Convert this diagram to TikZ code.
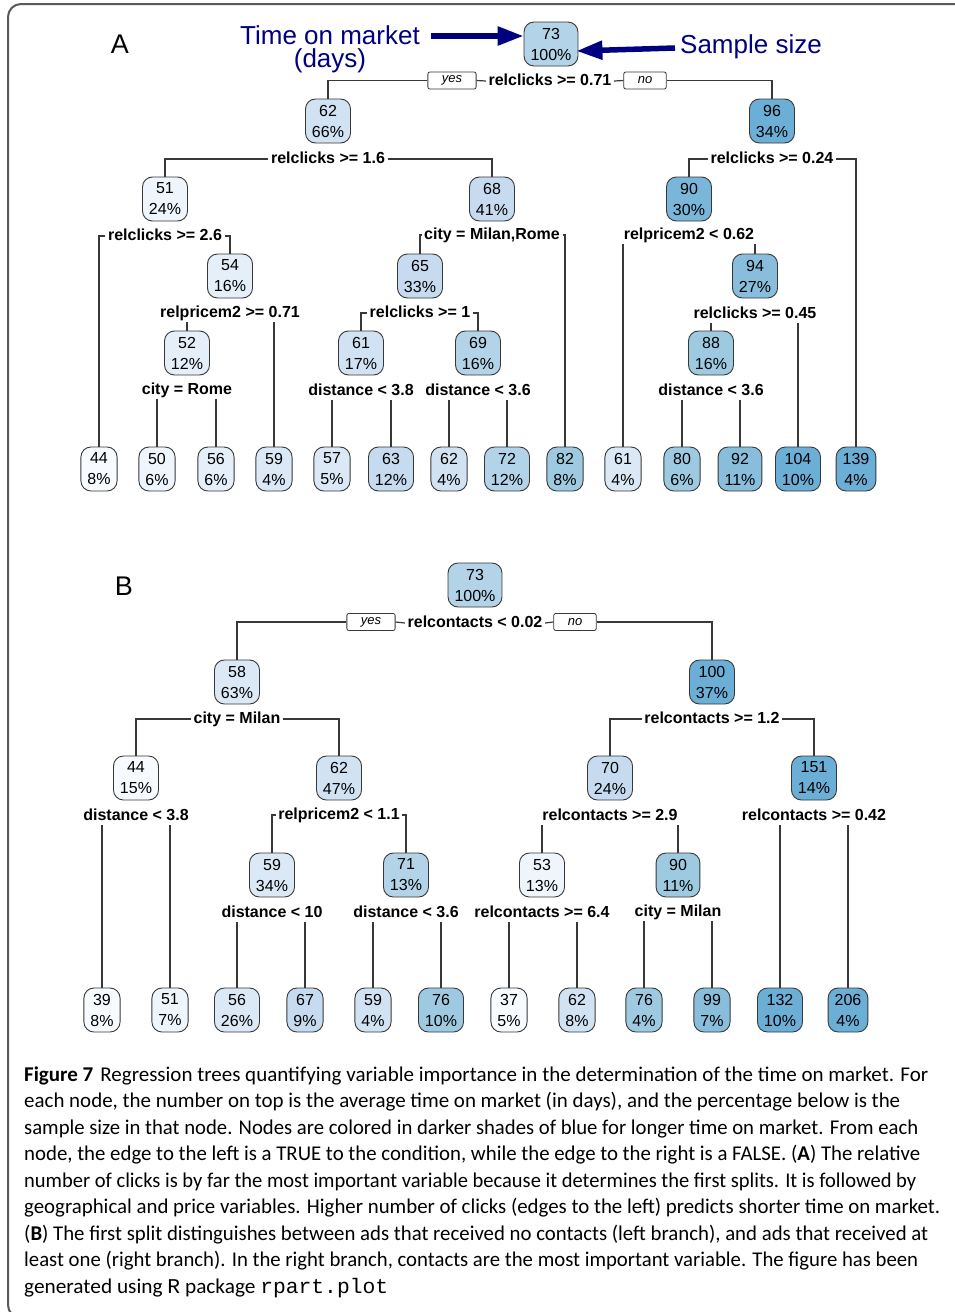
\documentclass[tikz,border=0pt]{standalone}
\usepackage{fontspec}
\usepackage{graphicx}
\setmainfont{Liberation Sans}
\newfontfamily\capfont{Carlito}
\newfontfamily\capmono{Liberation Mono}
\usetikzlibrary{arrows.meta,calc}
\definecolor{L0}{HTML}{F7FBFF}
\definecolor{L1}{HTML}{EEF5FC}
\definecolor{L2}{HTML}{E5EFF9}
\definecolor{L3}{HTML}{DBE9F6}
\definecolor{L4}{HTML}{D1E2F3}
\definecolor{L5}{HTML}{C6DBEF}
\definecolor{L6}{HTML}{B3D3E8}
\definecolor{L7}{HTML}{9ECAE1}
\definecolor{L8}{HTML}{88BEDC}
\definecolor{L9}{HTML}{7AB6D9}
\definecolor{L10}{HTML}{6BAED6}
\definecolor{navyc}{HTML}{000080}
\definecolor{edgec}{HTML}{383838}
\definecolor{framec}{HTML}{5A5A5A}
\tikzset{
  tnode/.style={draw=edgec, line width=0.9pt, rounded corners=10pt, minimum height=44pt,
    inner xsep=6.5pt, inner ysep=0pt, align=center, font=\fontsize{16}{21}\selectfont},
  slabel/.style={font=\bfseries\fontsize{16}{19}\selectfont, inner xsep=2.5pt, inner ysep=1pt,
    text height=12pt, text depth=3pt},
  ynbox/.style={draw=edgec, line width=0.8pt, rounded corners=2pt, fill=white,
    font=\itshape\fontsize{13}{14}\selectfont, inner xsep=14pt, inner ysep=0pt, minimum height=17pt},
  branch/.style={draw=edgec, line width=1.2pt},
  navyarrow/.style={draw=navyc, line width=5.5pt, -{Triangle[length=26pt,width=18pt]}},
  titletext/.style={text=navyc, font=\fontsize{26}{23.5}\selectfont, inner sep=0pt, align=center},
  panel/.style={font=\fontsize{27}{30}\selectfont, inner sep=0pt},
  capline/.style={anchor=base west, inner sep=0pt, font=\capfont\fontsize{21}{26}\selectfont},
}
\newcommand\TreeNode[6]{\node[tnode,fill=#4] (#1) at (#2,#3) {#5\\#6\%};}
\begin{document}
\begin{tikzpicture}[x=1pt,y=-1pt]
\useasboundingbox (0,0) rectangle (955,1312);
\clip (0,0) rectangle (955,1312);
\fill[white] (0,0) rectangle (955,1312);
\draw[framec, line width=2pt, rounded corners=13pt] (990,4) -- (8,4) -- (8,1318) -- (200,1318);

% ---------------- Tree A ----------------
\node[panel] (panA) at (120,44) {A};
\node[titletext, anchor=north] (tom) at (330,25) {Time on market\\(days)};
\node[titletext] (ss) at (751,47) {Sample size};

\TreeNode{a1}{551}{44}{L6}{73}{100}
\TreeNode{a2}{328}{121}{L4}{62}{66}
\TreeNode{a3}{772}{121}{L10}{96}{34}
\TreeNode{a4}{165}{199}{L1}{51}{24}
\TreeNode{a5}{492}{199}{L5}{68}{41}
\TreeNode{a6}{689}{199}{L9}{90}{30}
\TreeNode{a7}{230}{276}{L2}{54}{16}
\TreeNode{a8}{420}{276}{L5}{65}{33}
\TreeNode{a9}{755}{276}{L8}{94}{27}
\TreeNode{a10}{187}{353}{L2}{52}{12}
\TreeNode{a11}{361}{353}{L4}{61}{17}
\TreeNode{a12}{478}{353}{L6}{69}{16}
\TreeNode{a13}{711}{353}{L7}{88}{16}
\TreeNode{la1}{99}{469}{L0}{44}{8}
\TreeNode{la2}{157}{469}{L1}{50}{6}
\TreeNode{la3}{216}{469}{L2}{56}{6}
\TreeNode{la4}{274}{469}{L3}{59}{4}
\TreeNode{la5}{332}{469}{L3}{57}{5}
\TreeNode{la6}{391}{469}{L5}{63}{12}
\TreeNode{la7}{449}{469}{L4}{62}{4}
\TreeNode{la8}{507}{469}{L6}{72}{12}
\TreeNode{la9}{565}{469}{L7}{82}{8}
\TreeNode{la10}{623}{469}{L3}{61}{4}
\TreeNode{la11}{682}{469}{L7}{80}{6}
\TreeNode{la12}{740}{469}{L8}{92}{11}
\TreeNode{la13}{798}{469}{L10}{104}{10}
\TreeNode{la14}{856}{469}{L10}{139}{4}

\node[slabel] (sA1) at (550,81) {relclicks >= 0.71};
\node[ynbox] (yA) at (452,80.5) {yes};
\node[ynbox] (nA) at (645,80.5) {no};
\node[slabel] (sA2) at (328,159) {relclicks >= 1.6};
\node[slabel] (sA3) at (772,159) {relclicks >= 0.24};
\node[slabel] (sA4) at (165,236) {relclicks >= 2.6};
\node[slabel] (sA5) at (492,235) {city = Milan,Rome};
\node[slabel] (sA6) at (689,235) {relpricem2 < 0.62};
\node[slabel] (sA7) at (230,313) {relpricem2 >= 0.71};
\node[slabel] (sA8) at (420,313) {relclicks >= 1};
\node[slabel] (sA9) at (755,314) {relclicks >= 0.45};
\node[slabel] (sA10) at (187,390) {city = Rome};
\node[slabel] (sA11) at (361,391) {distance < 3.8};
\node[slabel] (sA12) at (478,391) {distance < 3.6};
\node[slabel] (sA13) at (711,391) {distance < 3.6};

\draw[branch] (sA1.west) -- (yA.east);
\draw[branch] (yA.west) -| (a2.north);
\draw[branch] (sA1.east) -- (nA.west);
\draw[branch] (nA.east) -| (a3.north);
\draw[branch] (sA2.west) -| (a4.north);
\draw[branch] (sA2.east) -| (a5.north);
\draw[branch] (sA3.west) -| (a6.north);
\draw[branch] (sA3.east) -| (la14.north);
\draw[branch] (sA4.west) -| (la1.north);
\draw[branch] (sA4.east) -| (a7.north);
\draw[branch] (sA5.west) -| (a8.north);
\draw[branch] (sA5.east) -| (la9.north);
\draw[branch] (la10.north) -- (la10.north |- sA6.south);
\draw[branch] (a9.north) -- (a9.north |- sA6.south);
\draw[branch] (a10.north) -- (a10.north |- sA7.south);
\draw[branch] (la4.north) -- (la4.north |- sA7.south);
\draw[branch] (sA8.west) -| (a11.north);
\draw[branch] (sA8.east) -| (a12.north);
\draw[branch] (a13.north) -- (a13.north |- sA9.south);
\draw[branch] (la13.north) -- (la13.north |- sA9.south);
\draw[branch] (la2.north) -- (la2.north |- sA10.south);
\draw[branch] (la3.north) -- (la3.north |- sA10.south);
\draw[branch] (la5.north) -- (la5.north |- sA11.south);
\draw[branch] (la6.north) -- (la6.north |- sA11.south);
\draw[branch] (la7.north) -- (la7.north |- sA12.south);
\draw[branch] (la8.north) -- (la8.north |- sA12.south);
\draw[branch] (la11.north) -- (la11.north |- sA13.south);
\draw[branch] (la12.north) -- (la12.north |- sA13.south);

\coordinate (tomarrow) at ($(tom.north east)+(11,11)$);
\draw[navyarrow] (tomarrow) -- (a1.west |- tomarrow);
\draw[navyarrow] ($(ss.west)+(-5,1)$) -- ($(a1.east)+(-2,7)$);

% ---------------- Tree B ----------------
\node[panel] (panB) at (124,586) {B};

\TreeNode{b1}{475}{585}{L6}{73}{100}
\TreeNode{b2}{237}{682}{L3}{58}{63}
\TreeNode{b3}{712}{682}{L10}{100}{37}
\TreeNode{b4}{136}{778}{L0}{44}{15}
\TreeNode{b5}{339}{778}{L4}{62}{47}
\TreeNode{b6}{610}{778}{L5}{70}{24}
\TreeNode{b7}{814}{778}{L10}{151}{14}
\TreeNode{b8}{272}{875}{L3}{59}{34}
\TreeNode{b9}{406}{875}{L6}{71}{13}
\TreeNode{b10}{542}{875}{L1}{53}{13}
\TreeNode{b11}{678}{875}{L7}{90}{11}
\TreeNode{lb1}{102}{1010}{L0}{39}{8}
\TreeNode{lb2}{170}{1010}{L1}{51}{7}
\TreeNode{lb3}{237}{1010}{L3}{56}{26}
\TreeNode{lb4}{305}{1010}{L5}{67}{9}
\TreeNode{lb5}{373}{1010}{L4}{59}{4}
\TreeNode{lb6}{441}{1010}{L7}{76}{10}
\TreeNode{lb7}{509}{1010}{L0}{37}{5}
\TreeNode{lb8}{577}{1010}{L4}{62}{8}
\TreeNode{lb9}{644}{1010}{L7}{76}{4}
\TreeNode{lb10}{712}{1010}{L8}{99}{7}
\TreeNode{lb11}{780}{1010}{L10}{132}{10}
\TreeNode{lb12}{848}{1010}{L10}{206}{4}

\node[slabel] (sB1) at (475,623) {relcontacts < 0.02};
\node[ynbox] (yB) at (371,622) {yes};
\node[ynbox] (nB) at (575,622) {no};
\node[slabel] (sB2) at (237,719) {city = Milan};
\node[slabel] (sB3) at (712,719) {relcontacts >= 1.2};
\node[slabel] (sB4) at (136,816) {distance < 3.8};
\node[slabel] (sB5) at (339,815) {relpricem2 < 1.1};
\node[slabel] (sB6) at (610,816) {relcontacts >= 2.9};
\node[slabel] (sB7) at (814,816) {relcontacts >= 0.42};
\node[slabel] (sB8) at (272,913) {distance < 10};
\node[slabel] (sB9) at (406,913) {distance < 3.6};
\node[slabel] (sB10) at (542,913) {relcontacts >= 6.4};
\node[slabel] (sB11) at (678,912) {city = Milan};

\draw[branch] (sB1.west) -- (yB.east);
\draw[branch] (yB.west) -| (b2.north);
\draw[branch] (sB1.east) -- (nB.west);
\draw[branch] (nB.east) -| (b3.north);
\draw[branch] (sB2.west) -| (b4.north);
\draw[branch] (sB2.east) -| (b5.north);
\draw[branch] (sB3.west) -| (b6.north);
\draw[branch] (sB3.east) -| (b7.north);
\draw[branch] (lb1.north) -- (lb1.north |- sB4.south);
\draw[branch] (lb2.north) -- (lb2.north |- sB4.south);
\draw[branch] (sB5.west) -| (b8.north);
\draw[branch] (sB5.east) -| (b9.north);
\draw[branch] (b10.north) -- (b10.north |- sB6.south);
\draw[branch] (b11.north) -- (b11.north |- sB6.south);
\draw[branch] (lb11.north) -- (lb11.north |- sB7.south);
\draw[branch] (lb12.north) -- (lb12.north |- sB7.south);
\draw[branch] (lb3.north) -- (lb3.north |- sB8.south);
\draw[branch] (lb4.north) -- (lb4.north |- sB8.south);
\draw[branch] (lb5.north) -- (lb5.north |- sB9.south);
\draw[branch] (lb6.north) -- (lb6.north |- sB9.south);
\draw[branch] (lb7.north) -- (lb7.north |- sB10.south);
\draw[branch] (lb8.north) -- (lb8.north |- sB10.south);
\draw[branch] (lb9.north) -- (lb9.north |- sB11.south);
\draw[branch] (lb10.north) -- (lb10.north |- sB11.south);

% ---------------- Caption ----------------
\node[capline] (c1) at (24,1081) {\resizebox{904pt}{\height}{\textbf{Figure 7}\hspace{7pt}Regression trees quantifying variable importance in the determination of the time on market. For}};
\node[capline] (c2) at (24,1107) {\resizebox{876pt}{\height}{each node, the number on top is the average time on market (in days), and the percentage below is the}};
\node[capline] (c3) at (24,1134) {\resizebox{894pt}{\height}{sample size in that node. Nodes are colored in darker shades of blue for longer time on market. From each}};
\node[capline] (c4) at (24,1160) {\resizebox{896pt}{\height}{node, the edge to the left is a TRUE to the condition, while the edge to the right is a FALSE. (\textbf{A}) The relative}};
\node[capline] (c5) at (24,1187) {\resizebox{892pt}{\height}{number of clicks is by far the most important variable because it determines the first splits. It is followed by}};
\node[capline] (c6) at (24,1213) {\resizebox{916pt}{\height}{geographical and price variables. Higher number of clicks (edges to the left) predicts shorter time on market.}};
\node[capline] (c7) at (24,1240) {\resizebox{904pt}{\height}{(\textbf{B}) The first split distinguishes between ads that received no contacts (left branch), and ads that received at}};
\node[capline] (c8) at (24,1266) {\resizebox{894pt}{\height}{least one (right branch). In the right branch, contacts are the most important variable. The figure has been}};
\node[capline] (c9) at (24,1293) {\resizebox{364pt}{\height}{generated using {\capmono R} package {\capmono rpart.plot}}};
\end{tikzpicture}
\end{document}
